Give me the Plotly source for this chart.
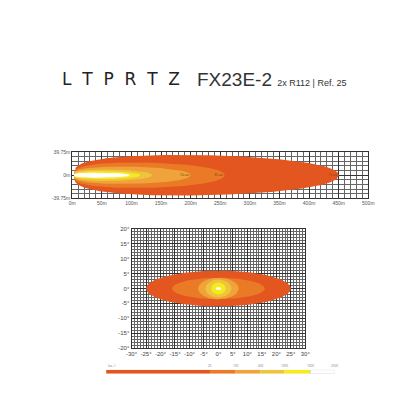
import numpy as np
import plotly.graph_objects as go

# Top chart: isolux contours (reach in m, max half-width in m)
top_reach = [450, 257, 200, 135, 115, 97]
top_halfw = [35, 22, 15, 10, 7, 4.5]
colors = ["#E4561F", "#EA7A26", "#EFA33A", "#EDC43C", "#F5EA1E", "#FFFFFF"]
top_labels = [("5Lux", 190), ("3Lux", 247), ("1Lux", 440)]
# Bottom chart: ellipses (half-width deg, half-height deg)
bot_hw = [25, 16, 7, 4.5, 2.5, 1.0]
bot_hh = [6, 3.6, 3.6, 3.0, 2.0, 0.5]
# Legend bar
leg_edges = [0, 0.455, 0.565, 0.675, 0.78, 0.895, 1.0]
leg_labels = ["25", "100", "400", "1000", "1600", "2500"]

fig = go.Figure()
x0 = 3
for L, w, c in zip(top_reach, top_halfw, colors):
    u = np.linspace(0, 1, 300)
    a, b = 0.3, 0.45
    prof = u**a * (1 - u)**b
    prof = prof / prof.max() * w
    xs = x0 + u * (L - x0)
    X = np.concatenate([xs, xs[::-1]])
    Y = np.concatenate([prof, -prof[::-1]])
    fig.add_trace(go.Scatter(x=X, y=Y, fill="toself", fillcolor=c, mode="lines",
                             line=dict(width=0), hoverinfo="skip", showlegend=False,
                             xaxis="x", yaxis="y"))
for t, xp in top_labels:
    fig.add_trace(go.Scatter(x=[xp], y=[0], mode="text", text=[t],
                             textfont=dict(size=4, color="#7a4a10"), showlegend=False,
                             xaxis="x", yaxis="y"))
th = np.linspace(0, 2*np.pi, 200)
for a_, b_, c in zip(bot_hw, bot_hh, colors):
    fig.add_trace(go.Scatter(x=a_*np.cos(th), y=b_*np.sin(th), fill="toself", fillcolor=c,
                             mode="lines", line=dict(width=0), hoverinfo="skip",
                             showlegend=False, xaxis="x2", yaxis="y2"))
for i, c in enumerate(colors):
    fig.add_trace(go.Scatter(x=[leg_edges[i], leg_edges[i+1], leg_edges[i+1], leg_edges[i], leg_edges[i]],
                             y=[0, 0, 1, 1, 0], fill="toself", fillcolor=c, mode="lines",
                             line=dict(width=0.5, color="#bbbbbb") if c == "#FFFFFF" else dict(width=0),
                             hoverinfo="skip", showlegend=False, xaxis="x3", yaxis="y3"))

grid = dict(showgrid=True, gridcolor="#333", gridwidth=0.8, zeroline=False,
            showline=True, linecolor="#333", mirror=True, ticks="", tickangle=0,
            tickfont=dict(size=5, color="#555", family="Liberation Sans"))
big = {**grid, "tickfont": dict(size=6, color="#444", family="Liberation Sans")}
fig.update_layout(
    width=416, height=415, margin=dict(l=0, r=0, t=0, b=0),
    paper_bgcolor="white", plot_bgcolor="white",
    xaxis=dict(domain=[0.144, 0.877], anchor="y", range=[0, 500], tickvals=list(range(0, 501, 50)),
               ticktext=[f"{v}m" for v in range(0, 501, 50)],
               minor=dict(dtick=10, showgrid=True, gridcolor="#666", gridwidth=0.4), **grid),
    yaxis=dict(domain=[0.542, 0.655], anchor="x", range=[-39.75, 39.75], tickvals=[-39.75, 0, 39.75],
               ticktext=["-39.75m", "0m", "39.75m"],
               minor=dict(dtick=7.95, showgrid=True, gridcolor="#666", gridwidth=0.4), **grid),
    xaxis2=dict(domain=[0.291, 0.721], anchor="y2", range=[-30, 30], tickvals=list(range(-30, 31, 5)),
                ticktext=[f"{v}°" for v in range(-30, 31, 5)],
                minor=dict(dtick=1, showgrid=True, gridcolor="#666", gridwidth=0.4), **big),
    yaxis2=dict(domain=[0.176, 0.467], anchor="x2", range=[-20, 20], tickvals=list(range(-20, 21, 5)),
                ticktext=[f"{v}°" for v in range(-20, 21, 5)],
                minor=dict(dtick=1, showgrid=True, gridcolor="#666", gridwidth=0.4), **big),
    xaxis3=dict(domain=[0.228, 0.793], anchor="y3", range=[0, 1], visible=False),
    yaxis3=dict(domain=[0.113, 0.123], anchor="x3", range=[0, 1], visible=False),
)
for e, t in zip(leg_edges[1:], leg_labels):
    fig.add_annotation(x=e, y=1, xref="x3", yref="y3", text=t, showarrow=False, yanchor="bottom",
                       font=dict(size=3, color="#777"))
fig.add_annotation(x=0, y=1, xref="x3", yref="y3", text="lux=1", showarrow=False, yanchor="bottom",
                   xanchor="left", font=dict(size=3, color="#777"))
fig.add_annotation(x=0.115, y=0.862, xref="paper", yref="paper", text="L  T  P  R  T  Z", showarrow=False,
                   xanchor="left", font=dict(size=17, color="#222", family="DejaVu Sans"))
fig.add_annotation(x=0.447, y=0.862, xref="paper", yref="paper",
                   text="FX23E-2 <span style='font-size:9px'>2x R112 | Ref. 25</span>", showarrow=False,
                   xanchor="left", font=dict(size=19, color="#333", family="Liberation Sans"))
fig.write_html("out.html")
